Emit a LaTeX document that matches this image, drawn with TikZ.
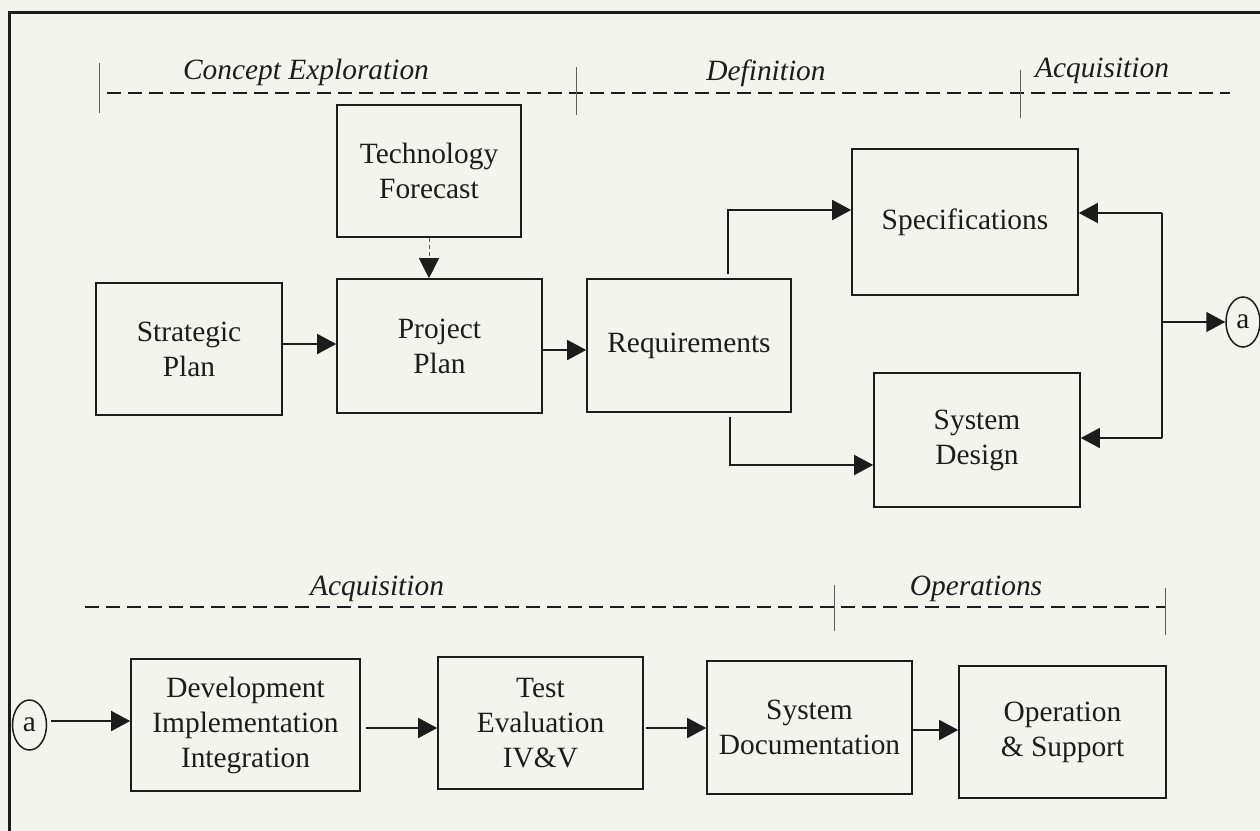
\documentclass[tikz,border=0pt]{standalone}
\usepackage{fontspec}
\setmainfont{Liberation Serif}
\usetikzlibrary{arrows.meta,shapes.geometric}
\definecolor{paper}{RGB}{244,244,239}
\definecolor{ink}{RGB}{28,28,28}
\definecolor{tick}{RGB}{95,95,95}

\begin{document}
\begin{tikzpicture}[x=0.5pt,y=-0.5pt,
  txt/.style={font=\fontsize{14.7}{17.5}\selectfont, text=ink, align=center},
  stage/.style={txt, draw=ink, line width=0.8pt, inner sep=0pt},
  phase/.style={font=\fontsize{14.7}{17.5}\selectfont\itshape, text=ink, anchor=base, inner sep=0pt},
  flow/.style={draw=ink, line width=0.75pt, -{Triangle[length=9.5pt,width=10pt]}},
  feed/.style={draw=tick, line width=0.5pt, dash pattern=on 2pt off 1.5pt, -{Triangle[length=10pt,width=10pt,color=ink]}},
  wire/.style={draw=ink, line width=0.75pt},
  spanline/.style={draw=ink, line width=0.9pt, dash pattern=on 7pt off 3.5pt},
  tickline/.style={draw=tick, line width=0.5pt},
  link/.style={txt, ellipse, draw=ink, line width=0.75pt, minimum width=17pt, minimum height=25pt, inner sep=0pt},
  frameline/.style={draw=ink, line width=1.5pt}
]
% page and frame
\useasboundingbox (0,0) rectangle (1260,831);
\fill[paper] (0,0) rectangle (1260,831);
\draw[frameline] (9,831) -- (9,12) -- (1260,12);

% phase bars, upper row
\coordinate (p1a) at (107,93);  \coordinate (p1b) at (1230,93);
\draw[spanline] (p1a) -- (p1b);
\coordinate (t1a) at (99,63);   \coordinate (t1b) at (99,113);
\coordinate (t2a) at (576,67);  \coordinate (t2b) at (576,115);
\coordinate (t3a) at (1020,70); \coordinate (t3b) at (1020,118);
\draw[tickline] (t1a) -- (t1b);
\draw[tickline] (t2a) -- (t2b);
\draw[tickline] (t3a) -- (t3b);
\node[phase] (ph1) at (306,79) {Concept Exploration};
\node[phase] (ph2) at (766,80) {Definition};
\node[phase] (ph3) at (1102,77) {Acquisition};

% phase bars, lower row
\coordinate (p2a) at (85,607);  \coordinate (p2b) at (1165,607);
\draw[spanline] (p2a) -- (p2b);
\coordinate (t4a) at (834,585);  \coordinate (t4b) at (834,631);
\coordinate (t5a) at (1165,588); \coordinate (t5b) at (1165,635);
\draw[tickline] (t4a) -- (t4b);
\draw[tickline] (t5a) -- (t5b);
\node[phase] (ph4) at (377,595) {Acquisition};
\node[phase] (ph5) at (976,595) {Operations};

% upper stages
\node[stage, minimum width=93pt,   minimum height=66pt]   (sp)   at (189,349)   {Strategic\\Plan};
\node[stage, minimum width=92pt,   minimum height=66pt]   (tf)   at (429,171)   {Technology\\Forecast};
\node[stage, minimum width=102.5pt,minimum height=67pt]   (pp)   at (439.5,346) {Project\\Plan};
\node[stage, minimum width=102pt,  minimum height=66.5pt] (req)  at (689,345.5) {Requirements};
\node[stage, minimum width=113pt,  minimum height=73pt]   (spec) at (965,222)   {Specifications};
\node[stage, minimum width=103pt,  minimum height=67pt]   (sd)   at (977,440)   {System\\Design};
\node[link] (aout) at (1243,322) {a};

% lower stages
\node[link] (ain) at (29.5,725) {a};
\node[stage, minimum width=114.5pt, minimum height=66pt]   (dev)  at (245.5,725) {Development\\Implementation\\Integration};
\node[stage, minimum width=102.5pt, minimum height=66pt]   (test) at (540.5,723) {Test\\Evaluation\\IV\&V};
\node[stage, minimum width=102.5pt, minimum height=66.5pt] (doc)  at (809.5,727.5) {System\\Documentation};
\node[stage, minimum width=103.5pt, minimum height=66pt]   (ops)  at (1062.5,732) {Operation\\\& Support};

% upper flow
\draw[flow] (sp.east |- 0,344) -- (pp.west |- 0,344);
\draw[flow] (pp.east |- 0,350) -- (req.west |- 0,350);
\draw[feed] (tf.south) -- (tf.south |- pp.north);
\draw[flow] ([yshift=2pt]req.north -| 728,0) |- (spec.west |- 0,210);
\draw[flow] ([yshift=-2pt]req.south -| 730,0) |- (sd.west |- 0,465);

% return bus on the right
\coordinate (bustop) at (1162,213);
\coordinate (busmid) at (1162,322);
\coordinate (busbot) at (1162,438);
\draw[wire] (bustop) -- (busbot);
\draw[flow] (bustop) -- (spec.east |- bustop);
\draw[flow] (busbot) -- (sd.east |- busbot);
\draw[flow] (busmid) -- (aout.west);

% lower flow
\draw[flow] ([xshift=2pt]ain.east |- 0,721) -- (dev.west |- 0,721);
\draw[flow] ([xshift=2.5pt]dev.east |- 0,728) -- (test.west |- 0,728);
\draw[flow] ([xshift=1pt]test.east |- 0,728) -- (doc.west |- 0,728);
\draw[flow] (doc.east |- 0,730) -- (ops.west |- 0,730);
\end{tikzpicture}
\end{document}
